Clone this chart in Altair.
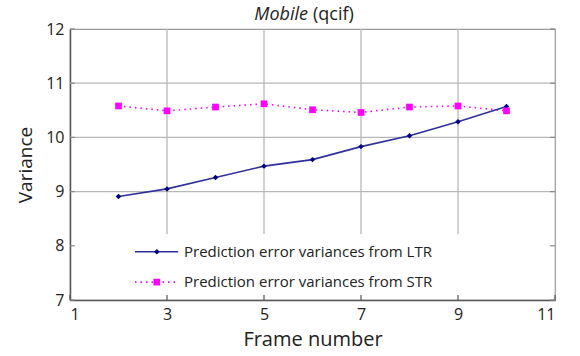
import altair as alt
import pandas as pd

# Frame numbers and the two variance series
frames = [2, 3, 4, 5, 6, 7, 8, 9, 10]
ltr_var = [8.91, 9.05, 9.26, 9.47, 9.59, 9.83, 10.03, 10.29, 10.57]
str_var = [10.58, 10.49, 10.56, 10.62, 10.51, 10.46, 10.56, 10.58, 10.49]

x_ticks = [1, 3, 5, 7, 9, 11]
y_ticks = [7, 8, 9, 10, 11, 12]
x_grid = [3, 5, 7, 9]
y_grid = [9, 10, 11]

legend_labels = ["Prediction error variances from LTR", "Prediction error variances from STR"]

FONT = "Open Sans"
AXIS_COLOR = "#555555"
GRID_COLOR = "#b8b8b8"
LTR_LINE = "#30309a"
LTR_MARK = "#000080"
STR_COLOR = "#ff00ff"

X = alt.X("x:Q", title="Frame number",
          scale=alt.Scale(domain=[1, 11], nice=False, zero=False),
          axis=alt.Axis(values=x_ticks, grid=False, ticks=False, domainColor=AXIS_COLOR,
                        domainWidth=1.5, labelFontSize=16, labelPadding=6,
                        labelColor="#222222", titleFontSize=20, titleFont=FONT,
                        labelFont=FONT, titleFontWeight="normal", titlePadding=7,
                        titleColor="#222222"))
Y = alt.Y("y:Q", title="Variance",
          scale=alt.Scale(domain=[7, 12], nice=False, zero=False),
          axis=alt.Axis(values=y_ticks, grid=False, ticks=False, domainColor=AXIS_COLOR,
                        domainWidth=1.5, labelFontSize=16, labelPadding=6,
                        labelColor="#222222", titleFontSize=19, titleFont=FONT,
                        labelFont=FONT, titleFontWeight="normal", titlePadding=10,
                        titleColor="#222222"))

ltr_df = pd.DataFrame({"x": frames, "y": ltr_var})
str_df = pd.DataFrame({"x": frames, "y": str_var})

# Grid lines (vertical ones stop above the legend area)
vgrid = alt.Chart(pd.DataFrame({"x": x_grid, "y": [8.22] * len(x_grid), "y2": [12] * len(x_grid)})).mark_rule(
    color=GRID_COLOR, strokeWidth=1.3).encode(x=X, y=Y, y2="y2:Q")
hgrid = alt.Chart(pd.DataFrame({"y": y_grid, "x": [1] * len(y_grid), "x2": [11] * len(y_grid)})).mark_rule(
    color=GRID_COLOR, strokeWidth=1.3).encode(x=X, x2="x2:Q", y=Y)

# Inward tick marks
xtick_df = pd.DataFrame({"x": x_ticks, "y": [7] * len(x_ticks), "y2": [7.09] * len(x_ticks)})
xticks = alt.Chart(xtick_df).mark_rule(color=AXIS_COLOR, strokeWidth=1.2).encode(x=X, y=Y, y2="y2:Q")
ytick_df = pd.DataFrame({"y": y_ticks * 2,
                         "x": [1] * len(y_ticks) + [10.9] * len(y_ticks),
                         "x2": [1.1] * len(y_ticks) + [11] * len(y_ticks)})
yticks = alt.Chart(ytick_df).mark_rule(color="#888888", strokeWidth=1.2).encode(x=X, x2="x2:Q", y=Y)

# Data series
ltr_line = alt.Chart(ltr_df).mark_line(color=LTR_LINE, strokeWidth=1.6).encode(x=X, y=Y)
ltr_pts = alt.Chart(ltr_df).mark_point(shape="diamond", filled=True, color=LTR_MARK, size=30, opacity=1).encode(x=X, y=Y)
str_line = alt.Chart(str_df).mark_line(color=STR_COLOR, strokeWidth=1.6, strokeDash=[1.5, 4]).encode(x=X, y=Y)
str_pts = alt.Chart(str_df).mark_point(shape="square", filled=True, color=STR_COLOR, size=45, opacity=1).encode(x=X, y=Y)

# Legend drawn inside the plot
leg_y = [7.89, 7.33]
leg_ltr_line = alt.Chart(pd.DataFrame({"x": [2.34], "x2": [3.23], "y": [leg_y[0]]})).mark_rule(
    color=LTR_LINE, strokeWidth=1.6).encode(x=X, x2="x2:Q", y=Y)
leg_ltr_pt = alt.Chart(pd.DataFrame({"x": [2.79], "y": [leg_y[0]]})).mark_point(
    shape="diamond", filled=True, color=LTR_MARK, size=30, opacity=1).encode(x=X, y=Y)
leg_str_line = alt.Chart(pd.DataFrame({"x": [2.34], "x2": [3.23], "y": [leg_y[1]]})).mark_rule(
    color=STR_COLOR, strokeWidth=1.6, strokeDash=[1.5, 4]).encode(x=X, x2="x2:Q", y=Y)
leg_str_pt = alt.Chart(pd.DataFrame({"x": [2.79], "y": [leg_y[1]]})).mark_point(
    shape="square", filled=True, color=STR_COLOR, size=45, opacity=1).encode(x=X, y=Y)
leg_text = alt.Chart(pd.DataFrame({"x": [3.35, 3.35], "y": leg_y, "t": legend_labels})).mark_text(
    align="left", baseline="middle", fontSize=15, font=FONT, color="#222222").encode(x=X, y=Y, text="t:N")

# Title: italic clip name followed by the format in parentheses
title_a = alt.Chart(pd.DataFrame({"t": ["Mobile"]})).mark_text(
    align="right", baseline="alphabetic", fontSize=18, font=FONT, fontStyle="italic", color="#222222"
).encode(x=alt.value(238), y=alt.value(-9), text="t:N")
title_b = alt.Chart(pd.DataFrame({"t": ["(qcif)"]})).mark_text(
    align="left", baseline="alphabetic", fontSize=18, font=FONT, color="#222222"
).encode(x=alt.value(243), y=alt.value(-9), text="t:N")

chart = alt.layer(
    vgrid, hgrid, xticks, yticks,
    str_line, ltr_line, ltr_pts, str_pts,
    leg_ltr_line, leg_ltr_pt, leg_str_line, leg_str_pt, leg_text,
    title_a, title_b,
).properties(
    width=485, height=271,
    autosize=alt.AutoSizeParams(type="none"),
    padding={"left": 70, "top": 29, "right": 25, "bottom": 56},
    background="white",
).configure_view(stroke="#9a9a9a", strokeWidth=1.2)

chart.save("out.html", embed_options={"renderer": "svg", "actions": False})
